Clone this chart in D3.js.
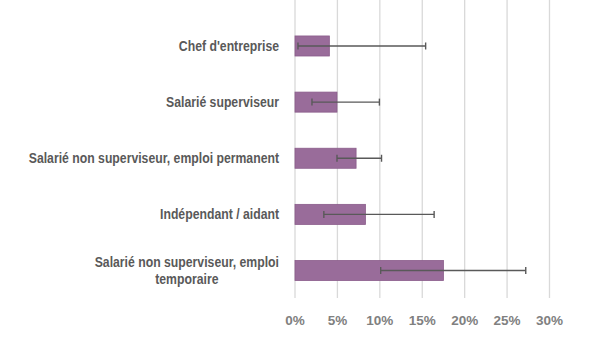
<!DOCTYPE html>
<html><head><meta charset="utf-8">
<script src="https://cdn.jsdelivr.net/npm/d3@7"></script>
<style>body{margin:0;background:#fff}</style>
</head><body>
<svg id="c" width="600" height="356"></svg>
<script>
const categories = [
  ["Chef d'entreprise"],
  ["Salarié superviseur"],
  ["Salarié non superviseur, emploi permanent"],
  ["Indépendant / aidant"],
  ["Salarié non superviseur, emploi", "temporaire"]
];
const values = [4.05, 4.95, 7.2, 8.3, 17.5];
const lowErr = [0.35, 2.0, 4.95, 3.4, 10.1];
const highErr = [15.4, 9.95, 10.2, 16.4, 27.2];
const ticks = [0, 5, 10, 15, 20, 25, 30];

const svg = d3.select("#c");
const x = d3.scaleLinear().domain([0, 30]).range([295, 549.5]);
const y = d3.scaleBand().domain(d3.range(categories.length)).range([18, 298.5]).paddingInner(0.643).paddingOuter(0.32);

svg.append("g").selectAll("line").data(ticks).join("line")
  .attr("x1", d => x(d)).attr("x2", d => x(d))
  .attr("y1", 0).attr("y2", 298)
  .attr("stroke", "#d9d9d9").attr("stroke-width", 1.3);

svg.append("g").selectAll("rect").data(values).join("rect")
  .attr("x", x(0)).attr("y", (d, i) => y(i))
  .attr("width", d => x(d) - x(0)).attr("height", y.bandwidth())
  .attr("fill", "#996c9a").attr("stroke", "#8a5c8b").attr("stroke-width", 0.8);

const eb = svg.append("g").attr("stroke", "#595959").attr("stroke-width", 1.4);
values.forEach((v, i) => {
  const cy = y(i) + y.bandwidth() / 2;
  eb.append("line").attr("x1", x(lowErr[i])).attr("x2", x(highErr[i])).attr("y1", cy).attr("y2", cy);
  [lowErr[i], highErr[i]].forEach(e => {
    eb.append("line").attr("x1", x(e)).attr("x2", x(e)).attr("y1", cy - 3.5).attr("y2", cy + 3.5);
  });
});

const font = "'Liberation Sans',Arial,sans-serif";
const sx = 0.875;      // condensed look
const right = 279;
categories.forEach((lines, i) => {
  const cy = y(i) + y.bandwidth() / 2;
  const lh = 16.7;
  const g = svg.append("g").attr("transform", `translate(${right},0) scale(${sx},1)`);
  const texts = lines.map((l, j) => g.append("text")
    .attr("font-family", font).attr("font-weight", "bold").attr("font-size", 14)
    .attr("fill", "#595959")
    .attr("y", cy + (j - (lines.length - 1) / 2) * lh).attr("dy", "0.35em")
    .text(l));
  const w0 = texts[0].node().getComputedTextLength();
  texts.forEach((t, j) => {
    if (j === 0) t.attr("text-anchor", "end").attr("x", 0);
    else t.attr("text-anchor", "middle").attr("x", -w0 / 2);
  });
});

svg.append("g").selectAll("text").data(ticks).join("text")
  .attr("x", d => x(d)).attr("y", 320).attr("dy", "0.35em")
  .attr("text-anchor", "middle")
  .attr("font-family", font).attr("font-weight", "bold").attr("font-size", 13.5)
  .attr("fill", "#808080").text(d => d + "%");
</script>
</body></html>
